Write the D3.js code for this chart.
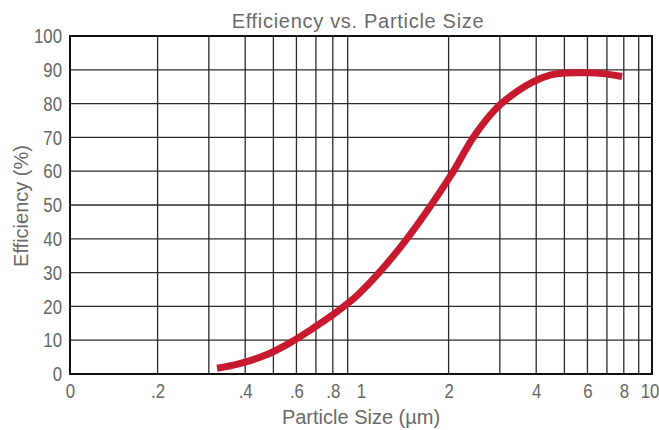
<!DOCTYPE html>
<html>
<head>
<meta charset="utf-8">
<script src="https://cdn.jsdelivr.net/npm/d3@7"></script>
<style>
  html, body { margin: 0; padding: 0; background: #fff; }
  svg { display: block; }
  .tick text { font-family: "Liberation Sans", Arial, sans-serif; fill: #666; font-size: 21px; }
  .ttl { font-family: "Liberation Sans", Arial, sans-serif; fill: #6a6a6a; }
</style>
</head>
<body>
<script>
// ---- data ----
const particleSize = [0.32, 0.38, 0.48, 0.58, 0.67, 0.77, 0.87, 0.98, 1.36, 2.02, 2.43, 2.91, 3.3, 3.87, 4.46, 4.91, 5.98, 6.9, 7.89];
const efficiency   = [1.7, 3.0, 5.9, 9.6, 13.0, 16.5, 19.9, 23.6, 37.3, 58.3, 70.0, 78.5, 82.5, 86.3, 88.4, 89.0, 89.1, 88.8, 88.0];
const xTickValues = [0.1, 0.2, 0.4, 0.6, 0.8, 1, 2, 4, 6, 8, 10];
const xTickLabels = ["0", ".2", ".4", ".6", ".8", "1", "2", "4", "6", "8", "10"];
const xGridValues = [0.2, 0.3, 0.4, 0.5, 0.6, 0.7, 0.8, 0.9, 2, 3, 4, 5, 6, 7, 8, 9];
const yTickValues = [0, 10, 20, 30, 40, 50, 60, 70, 80, 90, 100];
const yGridValues = [10, 20, 30, 40, 50, 60, 70, 80, 90];
const title = "Efficiency vs. Particle Size";
const xTitle = "Particle Size (µm)";
const yTitle = "Efficiency (%)";

const W = 659, H = 430;
const L = 70, R = 652, T = 36, B = 374;

const svg = d3.select("body").append("svg").attr("width", W).attr("height", H);

const x = d3.scaleLog().domain([0.1, 10]).range([L, R]);
const y = d3.scaleLinear().domain([0, 100]).range([B, T]);

// grid
svg.append("g").selectAll("line").data(xGridValues).join("line")
  .attr("x1", d => x(d)).attr("x2", d => x(d))
  .attr("y1", T).attr("y2", B)
  .attr("stroke", "#2a2a2a").attr("stroke-width", 1.3);
svg.append("g").selectAll("line").data(yGridValues).join("line")
  .attr("x1", L).attr("x2", R)
  .attr("y1", d => y(d)).attr("y2", d => y(d))
  .attr("stroke", "#2a2a2a").attr("stroke-width", 1.3);

// frame
svg.append("rect").attr("x", L).attr("y", T).attr("width", R - L).attr("height", B - T)
  .attr("fill", "none").attr("stroke", "#111").attr("stroke-width", 2);

// axes labels (condensed look via horizontal squeeze)
const xAxis = d3.axisBottom(x).tickValues(xTickValues)
  .tickFormat((d, i) => xTickLabels[i]).tickSize(0).tickPadding(9);
const gx = svg.append("g").attr("transform", `translate(0,${B})`).call(xAxis);
gx.select(".domain").remove();
gx.selectAll(".tick text").attr("transform", "scale(0.8,1)");
gx.selectAll(".tick").filter(d => d === 10).select("text").attr("dx", "-3");

const yAxis = d3.axisLeft(y).tickValues(yTickValues).tickFormat(d3.format("d")).tickSize(0).tickPadding(10);
const gy = svg.append("g").attr("transform", `translate(${L},0)`).call(yAxis);
gy.select(".domain").remove();
gy.selectAll(".tick text").attr("transform", "scale(0.8,1)");

// curve
const line = d3.line()
  .x((d, i) => x(particleSize[i]))
  .y((d, i) => y(efficiency[i]))
  .curve(d3.curveCatmullRom.alpha(0.5));
svg.append("path").datum(particleSize)
  .attr("d", line)
  .attr("fill", "none")
  .attr("stroke", "#c8192e")
  .attr("stroke-width", 7);

// titles
svg.append("text").attr("class", "ttl").attr("x", 358).attr("y", 28)
  .attr("text-anchor", "middle").attr("font-size", 20).attr("letter-spacing", 0.7).text(title);
svg.append("text").attr("class", "ttl").attr("x", 361).attr("y", 424)
  .attr("text-anchor", "middle").attr("font-size", 20).text(xTitle);
svg.append("text").attr("class", "ttl")
  .attr("transform", "translate(28,206) rotate(-90)")
  .attr("text-anchor", "middle").attr("font-size", 20).text(yTitle);
</script>
</body>
</html>
